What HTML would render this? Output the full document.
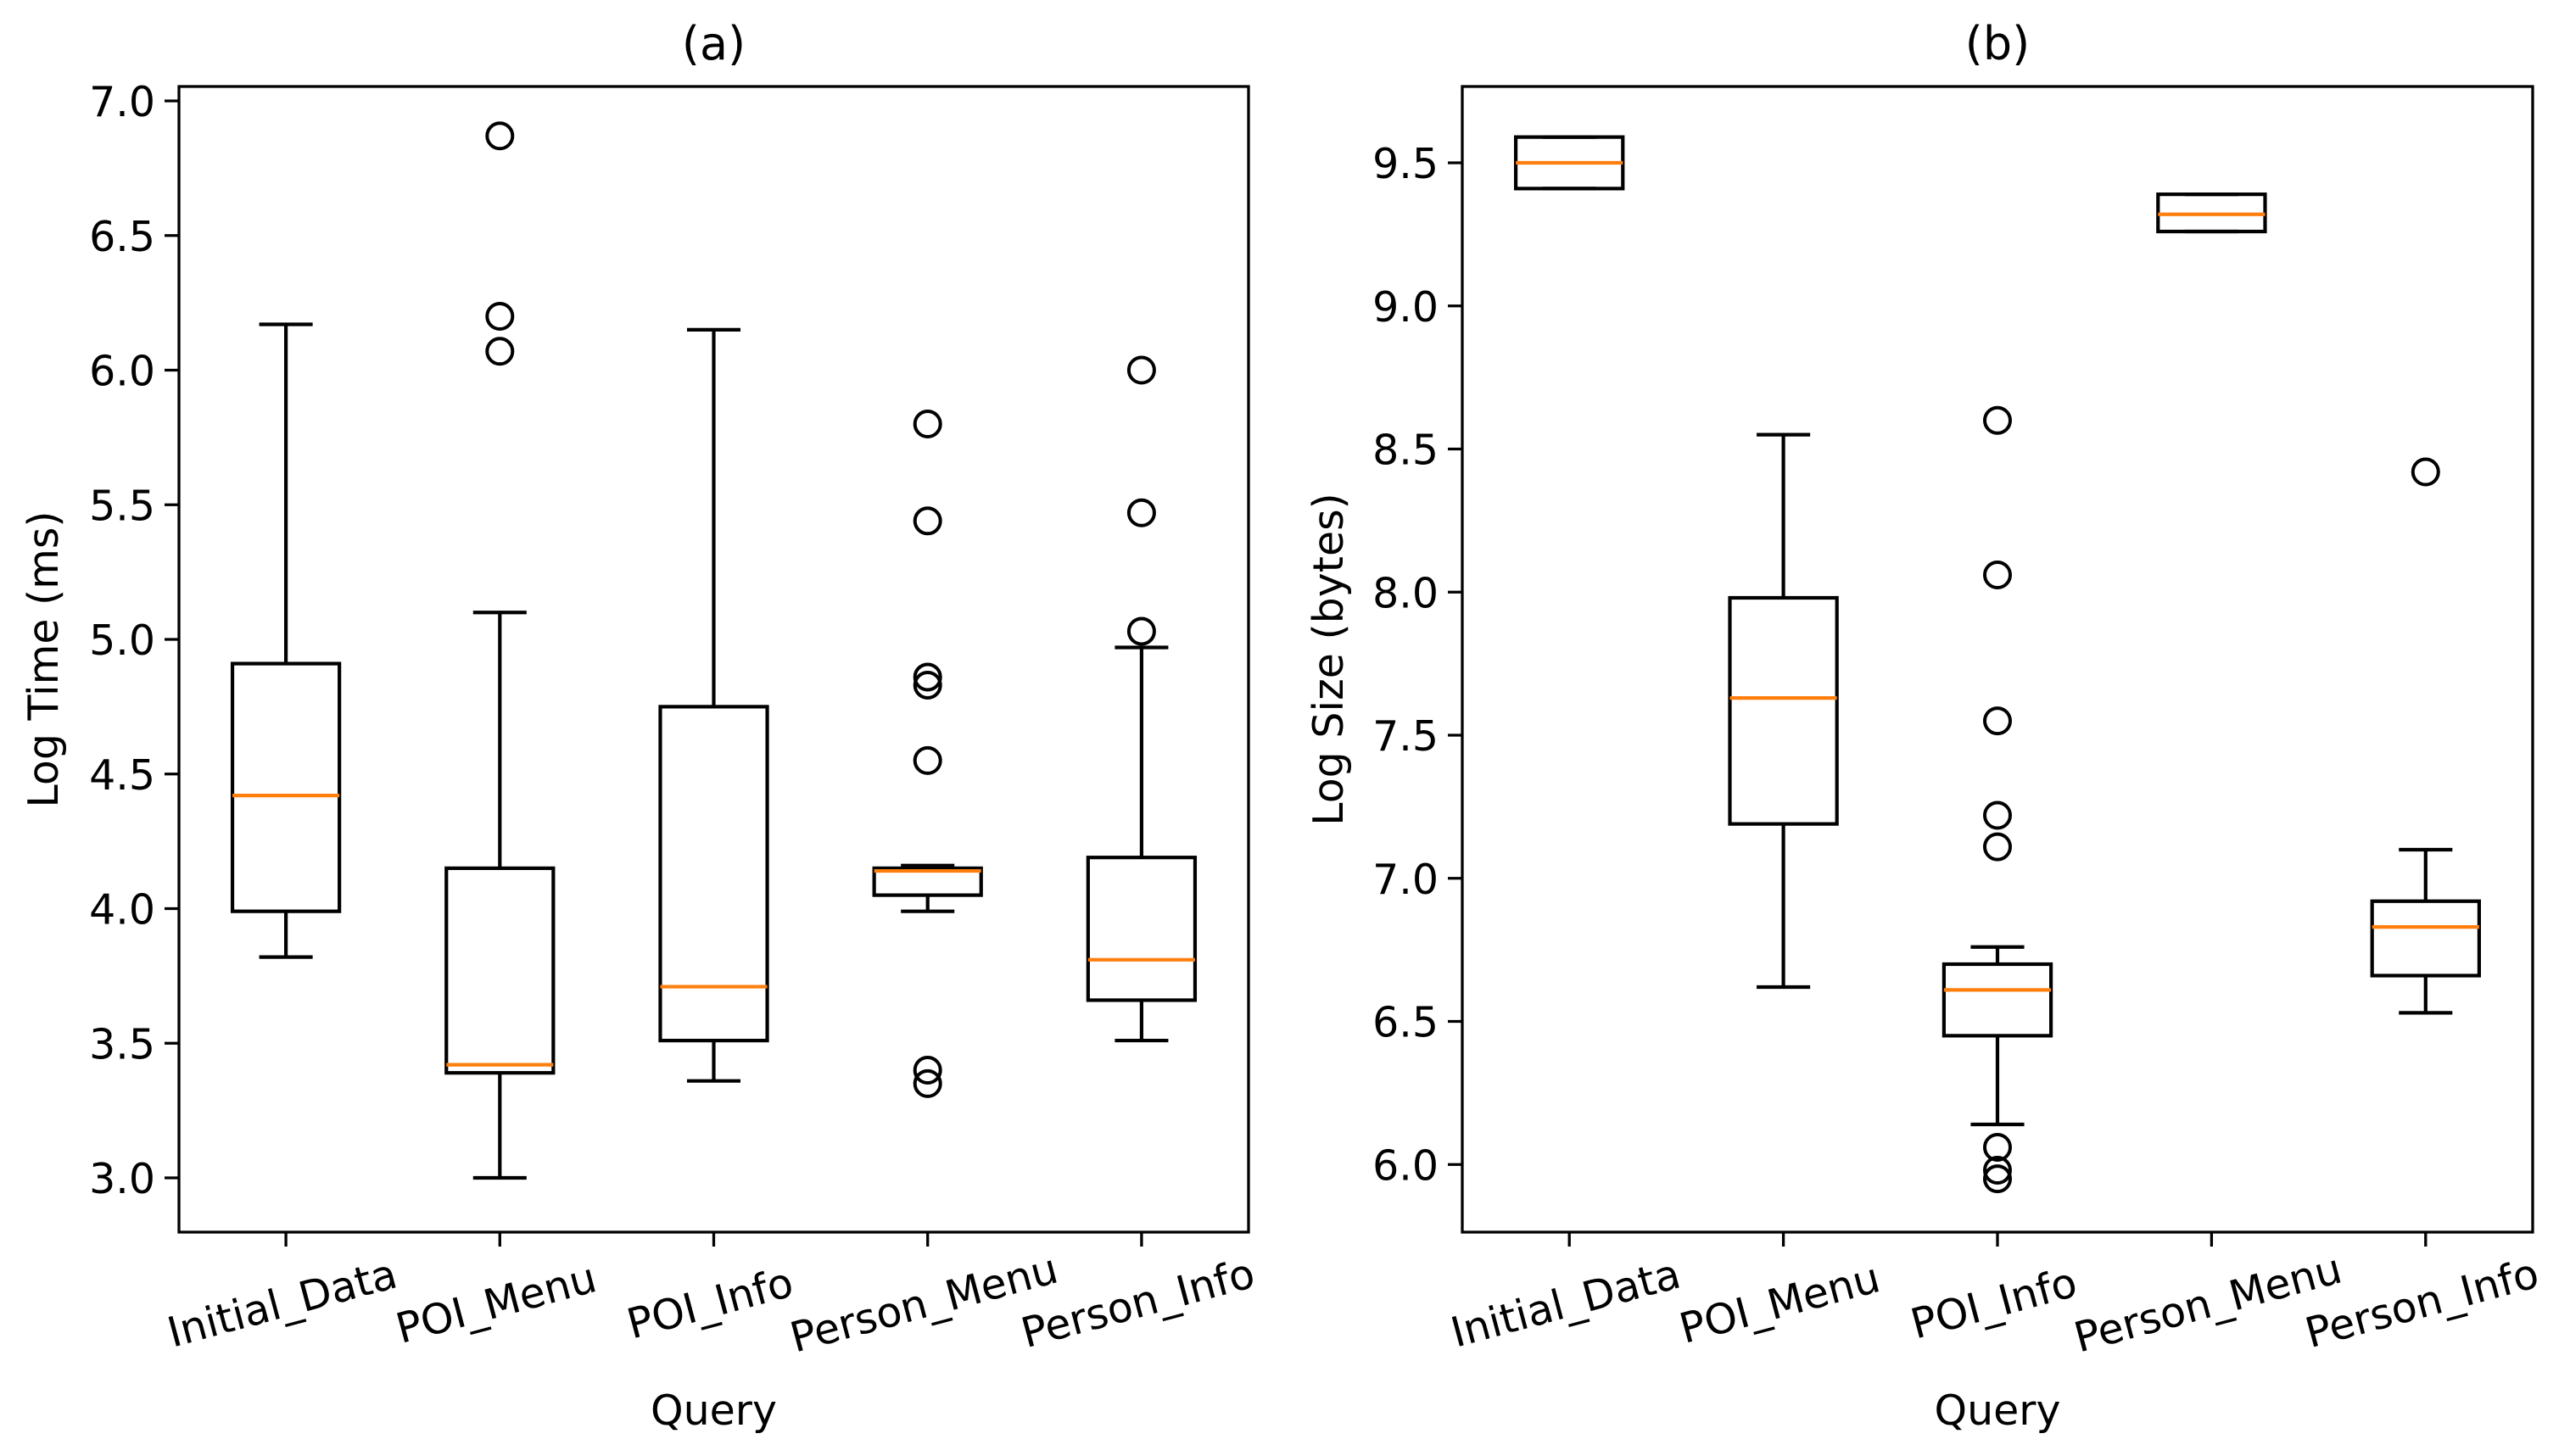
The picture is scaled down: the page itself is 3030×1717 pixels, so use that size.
<!DOCTYPE html>
<html><head><meta charset="utf-8"><style>
html,body{margin:0;padding:0;background:#fff}
svg{display:block;font-family:"DejaVu Sans","Liberation Sans",sans-serif}
</style></head><body>
<svg id="fig" width="3030" height="1717" viewBox="0 0 3030 1717" xmlns="http://www.w3.org/2000/svg"></svg>
<script>
const categories = ["Initial_Data","POI_Menu","POI_Info","Person_Menu","Person_Info"];
// panel a: Log Time (ms)
const aLow = [3.82, 3.00, 3.36, 3.99, 3.51];
const aQ1 = [3.99, 3.39, 3.51, 4.05, 3.66];
const aMed = [4.42, 3.42, 3.71, 4.14, 3.81];
const aQ3 = [4.91, 4.15, 4.75, 4.15, 4.19];
const aHigh = [6.17, 5.10, 6.15, 4.16, 4.97];
const aFliers = [[], [6.87, 6.20, 6.07], [], [5.80, 5.44, 4.86, 4.83, 4.55, 3.40, 3.35], [6.00, 5.47, 5.03]];
const aTicks = ["3.0","3.5","4.0","4.5","5.0","5.5","6.0","6.5","7.0"];
// panel b: Log Size (bytes)
const bLow = [9.41, 6.62, 6.14, 9.26, 6.53];
const bQ1 = [9.41, 7.19, 6.45, 9.26, 6.66];
const bMed = [9.50, 7.63, 6.61, 9.32, 6.83];
const bQ3 = [9.59, 7.98, 6.70, 9.39, 6.92];
const bHigh = [9.59, 8.55, 6.76, 9.39, 7.10];
const bFliers = [[], [], [8.60, 8.06, 7.55, 7.22, 7.11, 6.06, 5.98, 5.95], [], [8.42]];
const bTicks = ["6.0","6.5","7.0","7.5","8.0","8.5","9.0","9.5"];

const NS = "http://www.w3.org/2000/svg";
const svg = document.getElementById("fig");
function mk(tag, attrs, parent) {
  const e = document.createElementNS(NS, tag);
  for (const k in attrs) e.setAttribute(k, attrs[k]);
  (parent || svg).appendChild(e);
  return e;
}

function panel(p) {
  const g = mk("g", {});
  
  
  const L = p.left, R = p.right, T = 102, B = 1453;
  const step = (R - L) / 5;
  const x = i => L + step * (i + 0.5);
  const y = v => p.y0 + (v - p.v0) * p.scale;
  const FS = 49;

  p.ticks.forEach(t => {
    const yy = y(parseFloat(t));
    const tk = mk("line", {x1: L - 17, x2: L, y1: yy, y2: yy, stroke: "#000", "stroke-width": 3.3}, g);
    
    
    const tl = mk("text", {x: L - 28, y: yy + 18, "text-anchor": "end", "font-size": FS}, g);
    tl.textContent = t;
    
    
  });
  categories.forEach((c, i) => {
    const xx = x(i);
    const tk = mk("line", {x1: xx, x2: xx, y1: B, y2: B + 17, stroke: "#000", "stroke-width": 3.3}, g);
    
    
    const tl = mk("text", {x: 0, y: 0, "text-anchor": "middle", "font-size": FS,
      transform: `translate(${xx},${B + 100}) rotate(-15)`}, g);
    tl.textContent = c;
    
    
  });
  const hw = step * 0.25, cw = step * 0.125;
  categories.forEach((c, i) => {
    const xx = x(i);
    const bg = mk("g", {stroke: "#000", "stroke-width": 4.2, fill: "none"}, g);
    
    
    mk("line", {x1: xx, x2: xx, y1: y(p.q3[i]), y2: y(p.high[i])}, bg);
    mk("line", {x1: xx, x2: xx, y1: y(p.q1[i]), y2: y(p.low[i])}, bg);
    mk("line", {x1: xx - cw, x2: xx + cw, y1: y(p.high[i]), y2: y(p.high[i])}, bg);
    mk("line", {x1: xx - cw, x2: xx + cw, y1: y(p.low[i]), y2: y(p.low[i])}, bg);
    const y3 = y(p.q3[i]), y1 = y(p.q1[i]);
    mk("rect", {x: xx - hw, y: Math.min(y3, y1), width: 2 * hw, height: Math.abs(y1 - y3)}, bg);
    const med = mk("line", {x1: xx - hw, x2: xx + hw, y1: y(p.med[i]), y2: y(p.med[i]), stroke: "#ff7f0e"}, bg);
    
    
    p.fliers[i].forEach(v => {
      const f = mk("circle", {cx: xx, cy: y(v), r: 15, "stroke-width": 4}, bg);
      
      
    });
  });
  const fr = mk("rect", {x: L, y: T, width: R - L, height: B - T, fill: "none", stroke: "#000", "stroke-width": 3.3}, g);
  
  
  const ti = mk("text", {x: (L + R) / 2, y: 70, "text-anchor": "middle", "font-size": 54}, g);
  ti.textContent = p.title;
  
  
  const xl = mk("text", {x: (L + R) / 2, y: 1680, "text-anchor": "middle", "font-size": FS}, g);
  xl.textContent = "Query";
  
  
  const yl = mk("text", {x: 0, y: 0, "text-anchor": "middle", "font-size": FS,
    transform: `translate(${p.ylx},${(T + B) / 2}) rotate(-90)`}, g);
  yl.textContent = p.ylabel;
  
  
}

panel({id: "a", left: 211, right: 1472, y0: 119, v0: 7.0, scale: -317.5, ticks: aTicks,
  low: aLow, q1: aQ1, med: aMed, q3: aQ3, high: aHigh, fliers: aFliers,
  title: "(a)", ylabel: "Log Time (ms)", ylx: 68});
panel({id: "b", left: 1724, right: 2986, y0: 192, v0: 9.5, scale: -337.5, ticks: bTicks,
  low: bLow, q1: bQ1, med: bMed, q3: bQ3, high: bHigh, fliers: bFliers,
  title: "(b)", ylabel: "Log Size (bytes)", ylx: 1583});
</script>
</body></html>
